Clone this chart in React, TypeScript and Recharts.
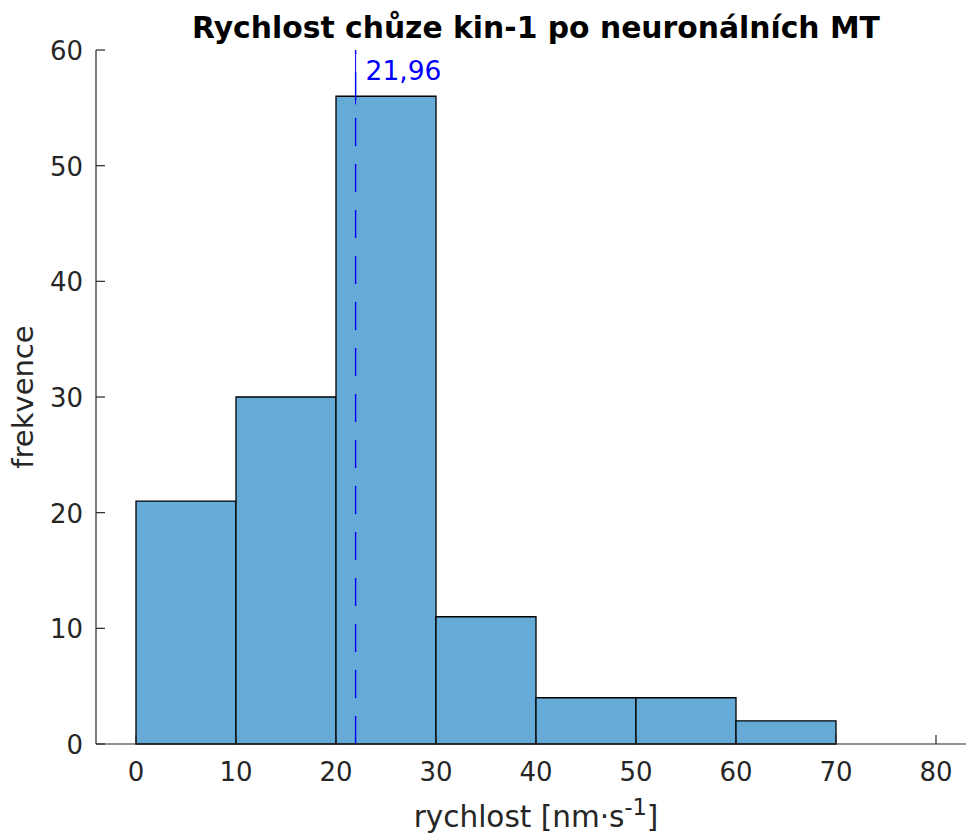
import { Bar, ComposedChart, ReferenceLine, XAxis, YAxis } from "recharts";

// histogram bins (left edges, width 10) and counts
const binStarts = [0, 10, 20, 30, 40, 50, 60, 70];
const counts = [21, 30, 56, 11, 4, 4, 2, 0];
const binWidth = 10;

const xTicks = [0, 10, 20, 30, 40, 50, 60, 70, 80];
const yTicks = [0, 10, 20, 30, 40, 50, 60];

const meanSpeed = 21.96;
const meanLabel = "21,96";

const data = binStarts.map((s, i) => ({ mid: s + binWidth / 2, count: counts[i] }));

const INK = "#262626";
const FONT = "'DejaVu Sans', sans-serif";
const BAR_FILL = "#66aad7";
const MEAN_BLUE = "#0000ff";

function BottomTick(props: any) {
  const { x, y, payload } = props;
  return (
    <g>
      <line x1={x} x2={x} y1={y} y2={y - 9} stroke={INK} strokeWidth={1.2} />
      <text x={x} y={y + 37} textAnchor="middle" fill={INK} fontSize={26} fontFamily={FONT}>
        {payload.value}
      </text>
    </g>
  );
}

function TopTick(props: any) {
  const { x, y } = props;
  return <line x1={x} x2={x} y1={y} y2={y + 9} stroke={INK} strokeWidth={1.2} />;
}

function LeftTick(props: any) {
  const { x, y, payload } = props;
  return (
    <g>
      <line x1={x} x2={x + 9} y1={y} y2={y} stroke={INK} strokeWidth={1.2} />
      <text x={x - 13} y={y + 10} textAnchor="end" fill={INK} fontSize={26} fontFamily={FONT}>
        {payload.value}
      </text>
    </g>
  );
}

function MeanLabel(props: any) {
  const vb = props.viewBox || {};
  return (
    <text x={vb.x + 10} y={vb.y + 30} fill={MEAN_BLUE} fontSize={26.5} fontFamily={FONT}>
      {meanLabel}
    </text>
  );
}

export default function App() {
  return (
    <div style={{ position: "absolute", left: 0, top: 0, width: 966, height: 834, overflow: "hidden", background: "#fff" }}>
      <ComposedChart
        width={980}
        height={834}
        data={data}
        margin={{ top: 50, right: 4, bottom: 0, left: 0 }}
        barCategoryGap={0}
        barGap={0}
      >
        <XAxis
          xAxisId="b"
          dataKey="mid"
          type="number"
          domain={[-4, 84]}
          ticks={xTicks}
          allowDataOverflow
          height={90}
          tickSize={0}
          tickMargin={0}
          tickLine={false}
          tick={<BottomTick />}
          axisLine={{ stroke: INK, strokeWidth: 1.2 }}
          interval={0}
        />
        <XAxis
          xAxisId="t"
          orientation="top"
          dataKey="mid"
          type="number"
          domain={[-4, 84]}
          ticks={xTicks}
          allowDataOverflow
          height={0}
          tickSize={0}
          tickMargin={0}
          tickLine={false}
          tick={<TopTick />}
          axisLine={{ stroke: INK, strokeWidth: 1.2 }}
          interval={0}
        />
        <YAxis
          yAxisId="l"
          domain={[0, 60]}
          ticks={yTicks}
          width={96}
          tickSize={0}
          tickMargin={0}
          tickLine={false}
          tick={<LeftTick />}
          axisLine={{ stroke: INK, strokeWidth: 1.2 }}
          interval={0}
        />
        <Bar
          xAxisId="b"
          yAxisId="l"
          dataKey="count"
          fill={BAR_FILL}
          stroke="#000"
          strokeWidth={1.3}
          isAnimationActive={false}
        />
        <ReferenceLine
          xAxisId="b"
          yAxisId="l"
          x={meanSpeed}
          stroke={MEAN_BLUE}
          strokeWidth={1.4}
          strokeDasharray="28 18"
          label={<MeanLabel />}
        />
        <ReferenceLine
          xAxisId="b"
          yAxisId="l"
          segment={[
            { x: meanSpeed, y: 55.3 },
            { x: meanSpeed, y: 59.85 },
          ]}
          stroke={MEAN_BLUE}
          strokeWidth={1}
        />
      </ComposedChart>
      <svg width={966} height={834} style={{ position: "absolute", left: 0, top: 0, pointerEvents: "none" }}>
        <text x={536} y={38} textAnchor="middle" fontSize={29.8} fontWeight="bold" fill="#000" fontFamily={FONT}>
          Rychlost chůze kin-1 po neuronálních MT
        </text>
        <text x={536} y={827} textAnchor="middle" fontSize={29.5} fill={INK} fontFamily={FONT}>
          rychlost [nm·s
          <tspan dy={-12} fontSize={22.5}>-1</tspan>
          <tspan dy={12}>]</tspan>
        </text>
        <text
          transform="translate(33 397) rotate(-90)"
          textAnchor="middle"
          fontSize={29}
          fill={INK}
          fontFamily={FONT}
        >
          frekvence
        </text>
      </svg>
    </div>
  );
}
